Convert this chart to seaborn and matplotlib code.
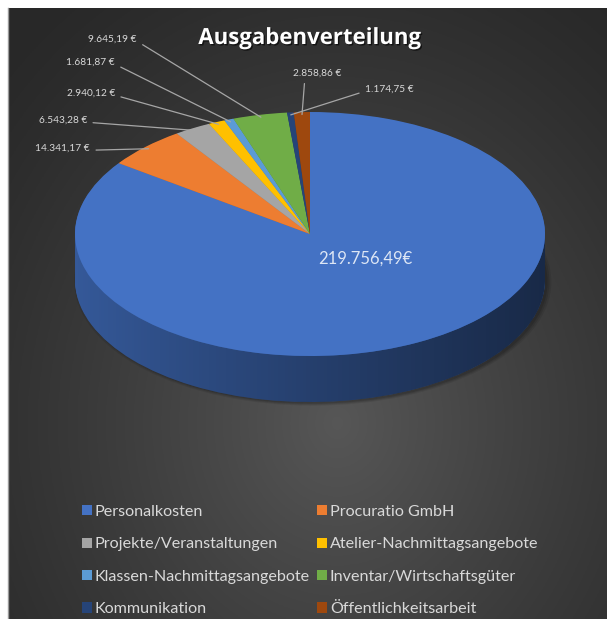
import numpy as np
import matplotlib
matplotlib.use("Agg")
import matplotlib.pyplot as plt
import matplotlib.patheffects as pe
from matplotlib.patches import Polygon, Ellipse
from matplotlib.colors import to_rgb
import seaborn as sns

# Data
categories = ["Personalkosten", "Procuratio GmbH", "Projekte/Veranstaltungen",
              "Atelier-Nachmittagsangebote", "Klassen-Nachmittagsangebote",
              "Inventar/Wirtschaftsgüter", "Kommunikation", "Öffentlichkeitsarbeit"]
values = [219756.49, 14341.17, 6543.28, 2940.12, 1681.87, 9645.19, 1174.75, 2858.86]
value_labels = ["219.756,49€", "14.341,17 €", "6.543,28 €", "2.940,12 €",
                "1.681,87 €", "9.645,19 €", "1.174,75 €", "2.858,86 €"]
colors = ["#4472C4", "#ED7D31", "#A5A5A5", "#FFC000",
          "#5B9BD5", "#70AD47", "#264478", "#9E480E"]

sns.set_theme(style="white")
plt.rcParams['font.family'] = ['Lato', 'DejaVu Sans']

W, H = 607, 619
fig = plt.figure(figsize=(W / 100, H / 100), dpi=100)
fig.patch.set_facecolor("white")

# dark gradient panel
bg = fig.add_axes([8 / W, 0, (W - 8) / W, (H - 8) / H])
yy, xx = np.mgrid[0:1:300j, 0:1:300j]
r = np.sqrt(((xx - 0.55) / 0.75) ** 2 + ((yy - 0.68) / 0.85) ** 2)
t = np.clip(1 - r, 0, 1) ** 1.2
lo, hi = np.array([0.16, 0.16, 0.16]), np.array([0.34, 0.34, 0.34])
bg.imshow(lo + (hi - lo) * t[..., None], extent=[0, 1, 0, 1], aspect="auto")
bg.set_xticks([])
bg.set_yticks([])
for s in ["top", "right", "bottom"]:
    bg.spines[s].set_visible(False)
bg.spines["left"].set_color("#9a9a9a")
bg.spines["left"].set_linewidth(1)

# pie axes: unit circle mapped to an ellipse (3D tilt)
cx, cy = 310, 234      # centre of top face, pixels from top
rx, ry = 235, 122
depth = 46 / ry
ax = fig.add_axes([0, 0, 1, 1])
ax.patch.set_alpha(0)


def px(x, y):
    return (x - cx) / rx, (H - y - (H - cy)) / ry


# soft shadow under the pie
for i, a in enumerate([0.08, 0.10, 0.12]):
    s = 1 - i * 0.008
    ax.add_patch(Ellipse((0.012, -depth - 0.015), 2.03 * s, 2.03 * s,
                         facecolor="black", alpha=a, edgecolor="none", zorder=1))

# side wall as stacked layers
side_colors = [tuple(c * 0.78 for c in to_rgb(col)) for col in colors]
for k in np.linspace(depth, 0.005, 40):
    ax.pie(values, colors=side_colors, startangle=90, counterclock=False,
           center=(0, -k), wedgeprops=dict(linewidth=0, zorder=2))

# darkening toward the right on the side wall
th = np.linspace(np.pi, 2 * np.pi, 200)
outline = np.vstack([np.column_stack([np.cos(th), np.sin(th)]),
                     np.column_stack([np.cos(th[::-1]), np.sin(th[::-1]) - depth])])
clip = Polygon(outline, closed=True, facecolor="none", edgecolor="none")
ax.add_patch(clip)
grad = np.zeros((2, 256, 4))
grad[..., 3] = np.linspace(0.0, 0.5, 256) ** 0.9
im = ax.imshow(grad, extent=(-1, 1, -1 - depth, 0), aspect="auto", zorder=3)
im.set_clip_path(clip)

# top face
wedges, _ = ax.pie(values, colors=colors, startangle=90, counterclock=False,
                   wedgeprops=dict(linewidth=0, zorder=4))

ax.set_aspect("auto")
ax.set_xlim(-cx / rx, (W - cx) / rx)
ax.set_ylim(-(H - cy) / ry, cy / ry)
ax.axis("off")

# value labels
label_pos = [(365, 259, "center"), (90, 148, "right"), (87, 120, "right"),
             (115, 93, "right"), (115, 62, "right"), (137, 39, "right"),
             (365, 89, "left"), (317, 73, "center")]
lab_col = "#d9d9d9"
ax.text(*px(label_pos[0][0], label_pos[0][1]), value_labels[0], color="#dde6f5",
        fontsize=12, ha="center", va="center", zorder=6)
for i in range(1, len(values)):
    w = wedges[i]
    mid = np.deg2rad((w.theta1 + w.theta2) / 2)
    xt, yt, ha = label_pos[i]
    if ha == "right":
        rel = (1, 0.25)
    elif ha == "left":
        rel = (0, 0.25)
    else:
        rel = (0.25, 0)
    ax.annotate(value_labels[i], xy=(np.cos(mid) * 0.98, np.sin(mid) * 0.98),
                xytext=px(xt, yt), ha=ha, va="center", fontsize=7.3, color=lab_col,
                arrowprops=dict(arrowstyle="-", color="#a6a6a6", lw=0.9,
                                shrinkA=2, shrinkB=0, relpos=rel), zorder=6)

# title
fig.text(310 / W, (H - 44) / H, "Ausgabenverteilung", ha="center", va="baseline",
         fontsize=16, fontweight="bold", color="white", family=["Open Sans", "DejaVu Sans"],
         path_effects=[pe.withSimplePatchShadow(offset=(1, -1), shadow_rgbFace="black", alpha=0.6)])

# legend, two columns placed separately
order_cols = [[0, 2, 4, 6], [1, 3, 5, 7]]
col_x = [82, 317]
for ci, idx in enumerate(order_cols):
    leg = fig.legend([wedges[i] for i in idx], [categories[i] for i in idx],
                     loc="upper left", bbox_to_anchor=(col_x[ci] / W, (H - 505) / H),
                     frameon=False, fontsize=11.6, labelcolor=lab_col,
                     handlelength=0.6, handleheight=0.6, handletextpad=0.2,
                     labelspacing=1.14, borderpad=0, borderaxespad=0)

fig.savefig("out.png", dpi=100, facecolor=fig.get_facecolor())
